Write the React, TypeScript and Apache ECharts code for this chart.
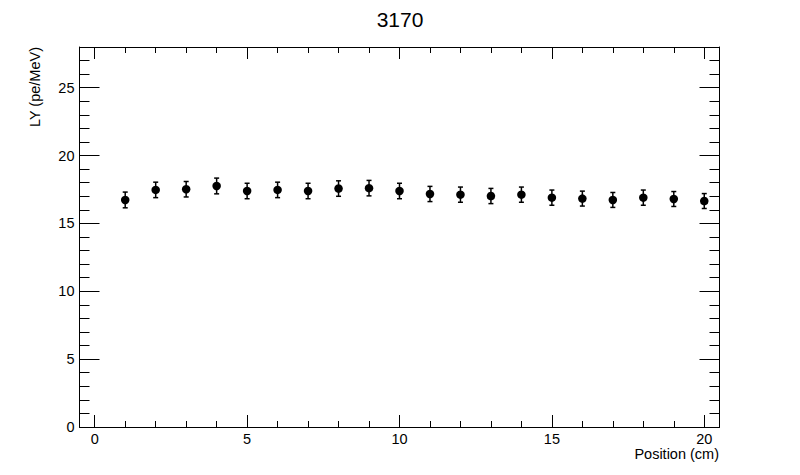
import React, { useEffect, useRef } from "react";
import * as echarts from "echarts";

const chartTitle = "3170";
const xTitle = "Position (cm)";
const yTitle = "LY (pe/MeV)";
const positions = [1, 2, 3, 4, 5, 6, 7, 8, 9, 10, 11, 12, 13, 14, 15, 16, 17, 18, 19, 20];
const lyValues = [16.73, 17.47, 17.52, 17.76, 17.39, 17.47, 17.39, 17.57, 17.6, 17.39, 17.17, 17.12, 17.02, 17.12, 16.9, 16.83, 16.73, 16.9, 16.8, 16.65];
const lyErrors = [0.58, 0.57, 0.57, 0.58, 0.57, 0.57, 0.57, 0.57, 0.57, 0.57, 0.56, 0.56, 0.56, 0.56, 0.56, 0.55, 0.55, 0.56, 0.55, 0.55];

const FONT = "'Liberation Sans', Arial, Helvetica, sans-serif";

export default function App() {
  const ref = useRef<HTMLDivElement>(null);
  useEffect(() => {
    if (!ref.current) return;
    const chart = echarts.init(ref.current, undefined, { renderer: "svg" });
    const pts = positions.map((x, i) => [x, lyValues[i], lyErrors[i]]);
    const axisLine = { show: true, onZero: false, lineStyle: { color: "#000", width: 1 } };
    const xCommon = {
      type: "value",
      min: -0.5,
      max: 20.5,
      splitNumber: 5,
      axisLine,
      splitLine: { show: false },
      axisTick: { show: true, inside: true, length: 12, lineStyle: { color: "#000" } },
      minorTick: { show: true, splitNumber: 5, length: 6, lineStyle: { color: "#000" } },
      minorSplitLine: { show: false },
    };
    const yCommon = {
      type: "value",
      min: 0,
      max: 28,
      interval: 5,
      axisLine,
      splitLine: { show: false },
      axisTick: { show: true, inside: true, length: 20, lineStyle: { color: "#000" } },
      minorTick: { show: true, splitNumber: 5, length: 10, lineStyle: { color: "#000" } },
      minorSplitLine: { show: false },
    };
    const labelStyle = { fontSize: 14.5, fontFamily: FONT, color: "#000" };
    chart.setOption({
      animation: false,
      backgroundColor: "#fff",
      title: {
        text: chartTitle,
        left: "center",
        top: 4,
        textStyle: { fontSize: 21, fontWeight: "normal", fontFamily: FONT, color: "#000" },
      },
      grid: { left: 79.5, right: 80.5, top: 47, bottom: 48, containLabel: false },
      xAxis: [
        {
          ...xCommon,
          position: "bottom",
          axisLabel: {
            ...labelStyle,
            margin: 4,
            showMinLabel: false,
            showMaxLabel: false,
            formatter: (v: number) => (Math.abs(v % 5) < 1e-9 ? String(v) : ""),
          },
        },
        { ...xCommon, position: "top", axisLabel: { show: false } },
      ],
      yAxis: [
        {
          ...yCommon,
          position: "left",
          axisLabel: {
            ...labelStyle,
            margin: 5,
            showMaxLabel: false,
            formatter: (v: number) => (Math.abs(v % 5) < 1e-9 ? String(v) : ""),
          },
        },
        { ...yCommon, position: "right", axisLabel: { show: false } },
      ],
      graphic: [
        {
          type: "text",
          x: 719,
          y: 454,
          style: { text: xTitle, font: `14.5px ${FONT}`, fill: "#000", align: "right", verticalAlign: "middle" },
        },
        {
          type: "text",
          x: 35,
          y: 47,
          rotation: Math.PI / 2,
          style: { text: yTitle, font: `14.5px ${FONT}`, fill: "#000", align: "right", verticalAlign: "middle" },
        },
      ],
      series: [
        {
          type: "custom",
          xAxisIndex: 0,
          yAxisIndex: 0,
          data: pts,
          renderItem: (params: any, api: any) => {
            const x = api.value(0);
            const y = api.value(1);
            const e = api.value(2);
            const top = api.coord([x, y + e]);
            const bot = api.coord([x, y - e]);
            const st = { stroke: "#000", lineWidth: 1.5 };
            return {
              type: "group",
              children: [
                { type: "line", shape: { x1: top[0], y1: top[1], x2: bot[0], y2: bot[1] }, style: st },
                { type: "line", shape: { x1: top[0] - 2.5, y1: top[1], x2: top[0] + 2.5, y2: top[1] }, style: st },
                { type: "line", shape: { x1: bot[0] - 2.5, y1: bot[1], x2: bot[0] + 2.5, y2: bot[1] }, style: st },
              ],
            };
          },
          z: 2,
        },
        {
          type: "scatter",
          xAxisIndex: 0,
          yAxisIndex: 0,
          data: pts.map((p) => [p[0], p[1]]),
          symbol: "circle",
          symbolSize: 8.5,
          itemStyle: { color: "#000", opacity: 1 },
          z: 3,
        },
      ],
    });
    return () => chart.dispose();
  }, []);
  return (
    <div
      ref={ref}
      style={{ position: "absolute", left: 0, top: 0, width: 800, height: 475, background: "#fff" }}
    />
  );
}
